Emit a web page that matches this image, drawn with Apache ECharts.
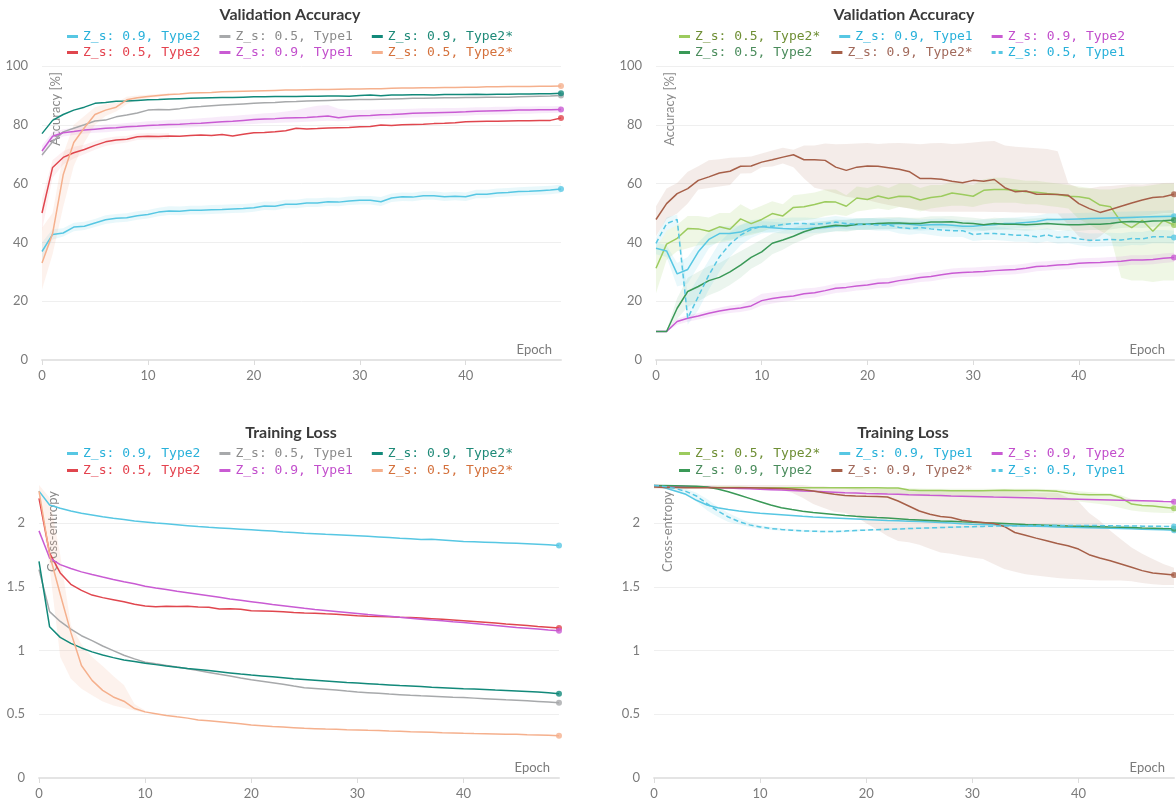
<!DOCTYPE html>
<html><head><meta charset="utf-8">
<script src="https://cdn.jsdelivr.net/npm/echarts@6/dist/echarts.min.js"></script>
<style>html,body{margin:0;padding:0;background:#fff}#c{width:1176px;height:809px}</style>
</head><body><div id="c"></div>
<script>
// ---------- categories ----------
const epochs = ['0','1','2','3','4','5','6','7','8','9','10','11','12','13','14','15','16','17','18','19','20','21','22','23','24','25','26','27','28','29','30','31','32','33','34','35','36','37','38','39','40','41','42','43','44','45','46','47','48','49'];
const accTicks = [0,20,40,60,80,100];
const lossTicks = [0,0.5,1,1.5,2];

// ---------- top-left: validation accuracy ----------
const tlCyan = [36.9,42.7,43.2,45.2,45.5,46.6,47.7,48.2,48.4,49.1,49.5,50.3,50.7,50.6,50.9,50.9,51.1,51.2,51.4,51.5,51.8,52.4,52.3,53.0,53.0,53.4,53.4,53.8,53.7,54.1,54.3,54.3,53.8,55.1,55.5,55.4,55.9,55.9,55.5,55.7,55.5,56.4,56.4,56.8,57.0,57.3,57.4,57.6,57.8,58.2];
const tlGray = [69.7,74.2,77.6,78.8,80,81.3,81.6,82.7,83.3,84,85,85.2,85.1,85.5,86,86.2,86.5,86.7,86.9,87.1,87.3,87.5,87.6,87.8,87.9,88.1,88.2,88.3,88.4,88.5,88.6,88.6,88.7,88.8,88.9,89,89,89.1,89.2,89.2,89.3,89.3,89.4,89.4,89.4,89.5,89.6,89.7,89.8,90];
const tlTeal = [77,81.5,83.5,85,86,87.3,87.6,88,88.1,88.3,88.5,88.6,88.8,88.9,89,89.1,89.2,89.3,89.3,89.4,89.5,89.5,89.6,89.6,89.6,89.7,89.7,89.8,89.8,89.7,90,90.1,89.9,90.1,90.1,90.2,90.2,90.1,90.3,90.3,90.3,90.4,90.3,90.4,90.4,90.5,90.5,90.6,90.6,90.7];
const tlRed = [50,65.5,68.9,70.5,71.6,73,74.2,74.8,75.1,75.9,76.1,76,76.2,76.1,76.4,76.5,76.4,76.7,76.2,76.8,77.3,77.4,77.6,78,78.8,78.6,78.7,78.9,79,79.1,79.3,79.4,79.9,79.8,80,80.1,80.2,80.4,80.5,80.7,81,81.1,81.2,81.2,81.3,81.4,81.4,81.5,81.5,82.3];
const tlPink = [71.1,76.1,77.3,77.7,78.2,78.5,78.8,79,79.3,79.5,79.8,79.9,80.1,80.2,80.4,80.5,80.8,81,81.2,81.5,81.8,82,82.1,82.3,82.4,82.5,82.7,83,82.4,82.8,83.1,83.2,83.4,83.5,83.7,83.9,84,84.1,84.2,84.3,84.4,84.6,84.7,84.8,84.9,85,85,85.1,85.1,85.2];
const tlOrange = [33,43,63,74,79,83.5,85,86,88.5,89.2,89.6,90,90.3,90.5,90.8,90.9,91,91.2,91.3,91.4,91.5,91.6,91.7,91.8,91.8,91.9,92,92,92.1,92.2,92.2,92.3,92.3,92.4,92.5,92.5,92.6,92.6,92.7,92.7,92.8,92.8,92.9,92.9,93,93,93,93.1,93.1,93.2];
// bands (min / max over runs)
const tlOrangeLo = [24,36,52,66,74,80,83,84.5,87,88.4,89,89.5,89.9];
const tlOrangeHi = [45,50,70,80,83,86,87,87.5,89.5,90,90.2,90.5,90.7];
const tlRedLo = [44,62,66.5,68.5,70,71.5,72.8,73.5,74,74.8,75,75,75.2];
const tlRedHi = [55,68,71,72.5,73.2,74.5,75.5,76,76.2,77,77.2,77.1,77.2];
const tlPinkLo = [69,74.5,76,76.5,77,77.3,77.5,77.8,78,78.2,78.4,78.6,78.8,79,79.1,79.3,79.5,79.7,79.9,80.1,80.3,80.5,80.6,80.8,80.9,81,81.2,81.4,81.2,81.5,81.7,81.8,82,82.1,82.3,82.5,82.6,82.7,82.9,83,83.1,83.3,83.4,83.5,83.6,83.7,83.8,83.9,84,84.1];
const tlPinkHi = [73,77.5,78.5,79,79.4,79.8,80.1,80.3,80.6,80.9,81.2,81.4,81.6,81.8,82,82.2,82.5,82.8,83,83.3,83.6,83.9,84.1,84.5,85,85.8,86.5,86.7,85.5,85,85,85.1,85.2,85.3,85.4,85.5,85.6,85.6,85.7,85.7,85.8,86,86,86.1,86.1,86.2,86.2,86.3,86.3,86.4];
const tlCyanLo = [34,41,42,43.8,44.2,45.2,46.3,46.8,47,47.7,48.1,48.9,49.3,49.2,49.5,49.5,49.7,49.8,50,50.1,50.4,51,50.9,51.6,51.6,52,52,52.4,52.3,52.7,52.9,52.9,52.4,53.7,54.1,54,54.5,54.5,54.1,54.3,54.1,55,55,55.4,55.6,55.9,56,56.2,56.4,56.8];
const tlCyanHi = [40,44.5,44.8,46.7,47,48,49.2,49.7,49.9,50.6,51,51.8,52.3,52.2,52.5,52.5,52.7,52.8,53,53.1,53.3,53.9,53.8,54.5,54.5,55,55,55.3,55.2,55.6,55.8,55.8,55.4,56.6,57,56.9,57.4,57.4,57,57.2,57,57.9,57.9,58.3,58.5,58.8,58.9,59.1,59.3,59.7];

// ---------- top-right: validation accuracy ----------
const trLgreen = [31.2,39.4,41.4,44.7,44.6,43.8,45.3,44.5,48,46.4,47.8,49.8,49,51.9,52.1,52.9,53.8,53.7,52.3,55.1,54.6,55.8,54.9,55.7,55.6,54.4,55.3,55.7,56.8,56.3,55.7,57.7,58,58,57.7,57.2,57.1,56.6,56.3,55.7,55.5,54.9,52.7,52.1,47,45,47.5,43.8,47.5,45.9];
const trCyan = [38,37.1,29.3,30.8,36.8,41,43,43,43.5,45,45.3,45,44.7,44.6,44.6,44.9,45.1,45.5,45.8,46,46.2,46.4,46.2,46.4,46.2,45.8,46,46.1,45.8,45.5,45.5,45.8,46,46.4,46.5,46.8,47.1,47.8,47.8,47.9,48,48.1,48.2,48.3,48.4,48.5,48.6,48.7,48.8,48.9];
const trPink = [9.7,9.7,13.1,14.2,15,15.9,16.7,17.3,17.7,18.4,20.2,20.9,21.4,21.8,22.5,22.9,23.6,24.4,24.7,25.2,25.5,26.1,26.3,27,27.5,28.1,28.4,29,29.5,29.8,29.9,30.1,30.4,30.6,30.8,31.2,31.8,32,32.3,32.5,32.9,33.1,33.2,33.4,33.6,34,34,34.2,34.6,34.9];
const trGreen = [9.7,9.7,17.6,23.3,25,27,28.1,30,32.3,34.9,36.8,39.7,40.8,42.1,43.6,44.7,45.3,45.8,45.6,46.2,46.2,46.4,46.6,46.6,46.4,46.4,46.9,46.9,47,46.6,46.4,46,46.4,46.2,46.2,46,46.2,46.4,46.2,46,46,46.2,46.2,46.4,46.9,47.1,46.9,47.3,47.4,47.6];
const trBrown = [47.8,53.2,56.6,58.3,61.1,62.3,63.6,64.2,65.9,66,67.3,68.1,69,69.8,68.1,68.1,67.9,65.6,64.5,65.6,66,65.9,65.4,64.9,64,61.7,61.7,61.5,60.8,60.3,61.1,60.8,61.4,58.6,57.2,57.5,56.4,56.4,56.3,56,53.2,51.5,50.2,51.2,52.3,53.4,54.4,55.3,55.5,56.4];
const trCyanDash = [39.7,46.4,47.8,14.2,21.6,28.9,35.1,39.4,42.5,44.4,45.5,45.5,46.1,46.4,46.4,46.2,46.4,46.9,46.4,46.2,46.2,45.9,45.9,45.1,44.7,45.1,44.6,44.2,44,44,42.7,43,43,42.8,42.4,42.4,41.9,42.6,41.7,41.9,41.2,40.7,40.8,41,40.8,41.3,41.2,41.9,41.9,41.7];
const trBrownLo = [42,48,49.8,53.2,58,58.5,59,59.5,63.4,63.5,65.6,65.8,66.8,65.6,61.7,58.6,57.7,56.6,55.5,55,54.4,53.5,52.7,52.1,51.5,51,50.4,50.4,50.4,50.4,50.4,50.4,50.3,50.3,50.2,50.2,50,49.8,49.8,46,42,40,42,45,48,48.5,49,49.5,50,50];
const trBrownHi = [52.3,58.3,60.2,64,65.9,67.9,68.3,68.8,69,69.2,70.2,71.3,72.2,71.5,73,73,73.6,73.4,73.5,73.6,73.8,73.5,73.7,73.8,73.6,73.4,73.7,73.8,73.5,73.6,74,74.3,74.5,73,72.5,72.3,72,71.8,71,60,58.5,58.3,59,59.2,59.5,59.8,59.7,60,60.2,60.3];
const trLgreenLo = [22.7,34,37,38,39,39,40,40.5,42,42.5,43.5,45,45.5,47,47.5,48,49,49.5,49,50.5,51,51.5,51,52,51.5,50.5,51.5,52,52.5,52.5,52,53,53.5,53.5,53.5,53,53,52.5,52,51.5,48,46,44,42,28,27,27,26.5,27,27];
const trLgreenHi = [38,44,46,49,49,48.5,50,50,53,51,52.5,54,53,56,56.5,57,58,58,56,59,58.5,59.5,58.5,60,60,58.5,59.5,59.5,60.5,60,59.5,61.5,62,62,61.5,61,61,60.5,60,59.5,59,58.5,58,58,58.5,59,59,59.5,60,60];
const trCyanLo = [36,35,25,26,32,38,40.5,41,41.5,43,43.5,43.3,43,42.9,42.9,43.2,43.4,43.8,44,44.2,44.4,44.6,44.4,44.6,44.4,44,44.2,44.3,44,43.7,43.7,44,44.2,44.6,44.7,45,45.3,46,46,46.1,46.2,46.3,46.4,46.5,46.6,46.7,46.8,46.9,47,47.1];
const trCyanHi = [40,39,33,35,40,43.5,45.5,45.5,45.8,47,47.2,47,46.7,46.6,46.6,46.9,47.1,47.5,47.8,48,48.2,48.4,48.2,48.4,48.2,47.8,48,48.1,47.8,47.5,47.5,47.8,48,48.4,48.5,48.8,49.1,49.8,49.8,49.9,50,50.1,50.2,50.3,50.4,50.5,50.6,50.7,50.8,51];
const trCyanDashLo = [38,44,46,12,17,24,30,35,39,41.5,43,43.5,44,44.5,44.5,44.3,44.5,45,44.5,44.3,44.3,44,44,43,42.6,43,42.5,42,41.8,41.8,40.5,40.8,40.8,40.6,40.2,40.2,39.7,40.4,39.5,39.7,39,38.5,38.6,38.8,38.6,39.1,39,39.7,39.7,39.5];
const trCyanDashHi = [41.5,48.5,49.5,22,28,34,40,43.5,46,47.5,48,48,48.3,48.5,48.5,48.3,48.5,49,48.5,48.3,48.3,48,48,47.3,46.9,47.3,46.8,46.4,46.2,46.2,45,45.2,45.2,45,44.6,44.6,44.2,44.8,43.9,44.1,43.5,43,43.1,43.3,43.1,43.6,43.5,44.2,44.2,44];
const trGreenLo = [9.5,9.5,14,18,20,22,23.5,25.5,28,31,33,36,37.5,39.5,41,42.5,43.3,43.8,43.6,44.2,44.2,44.4,44.6,44.6,44.4,44.4,44.9,44.9,45,44.6,44.4,44,44.4,44.2,44.2,44,44.2,44.4,44.2,44,44,44.2,44.2,44.4,44.9,45.1,44.9,45.3,45.4,45.6];
const trGreenHi = [10,10,21,28,30,32,33,35,37,39,41,43,44,45,46,47,47.3,47.8,47.6,48.2,48.2,48.4,48.6,48.6,48.4,48.4,48.9,48.9,49,48.6,48.4,48,48.4,48.2,48.2,48,48.2,48.4,48.2,48,48,48.2,48.2,48.4,48.9,49.1,48.9,49.3,49.4,49.6];
const trPinkLo = [9.5,9.5,12,13,13.8,14.6,15.4,16,16.3,17,18.5,19.2,19.8,20.2,20.9,21.3,22,22.8,23.1,23.6,23.9,24.5,24.7,25.4,25.9,26.5,26.8,27.4,27.9,28.2,28.3,28.5,28.8,29,29.2,29.6,30.2,30.4,30.7,30.9,31.3,31.5,31.6,31.8,32,32.4,32.4,32.6,33,33.3];
const trPinkHi = [10,10,14,15.2,16,16.9,17.8,18.5,19,20.5,22.5,23,23.4,23.8,24.3,24.6,25.2,26,26.3,26.8,27.1,27.7,27.9,28.6,29.1,29.7,30,30.6,31.1,31.4,31.5,31.7,32,32.2,32.4,32.8,33.4,33.6,33.9,34.1,34.5,34.7,34.8,35,35.2,35.6,35.6,35.8,36.2,36.5];

// ---------- bottom-left: training loss ----------
const blCyan = [2.252,2.143,2.117,2.096,2.078,2.065,2.05,2.039,2.029,2.018,2.01,2.002,1.995,1.988,1.981,1.974,1.968,1.963,1.958,1.953,1.948,1.943,1.938,1.932,1.927,1.922,1.918,1.913,1.909,1.905,1.901,1.897,1.892,1.887,1.882,1.878,1.872,1.874,1.869,1.863,1.857,1.854,1.851,1.848,1.845,1.842,1.838,1.834,1.83,1.826];
const blGray = [1.636,1.306,1.229,1.169,1.117,1.078,1.036,1.0,0.964,0.935,0.909,0.896,0.884,0.871,0.857,0.844,0.829,0.814,0.8,0.785,0.771,0.76,0.748,0.736,0.722,0.709,0.703,0.697,0.69,0.682,0.675,0.67,0.665,0.659,0.654,0.649,0.645,0.642,0.638,0.634,0.631,0.627,0.623,0.619,0.614,0.61,0.606,0.601,0.596,0.59];
const blTeal = [1.701,1.187,1.104,1.057,1.021,0.99,0.966,0.945,0.927,0.914,0.901,0.89,0.879,0.869,0.86,0.852,0.843,0.834,0.825,0.816,0.808,0.801,0.794,0.787,0.78,0.774,0.768,0.762,0.756,0.75,0.745,0.74,0.735,0.731,0.726,0.722,0.718,0.713,0.709,0.705,0.701,0.698,0.694,0.69,0.687,0.683,0.679,0.675,0.67,0.662];
const blRed = [2.195,1.766,1.61,1.52,1.473,1.436,1.416,1.4,1.384,1.364,1.351,1.345,1.348,1.346,1.349,1.343,1.341,1.327,1.329,1.325,1.312,1.31,1.308,1.305,1.3,1.296,1.294,1.289,1.285,1.28,1.273,1.27,1.268,1.265,1.262,1.26,1.256,1.251,1.246,1.24,1.234,1.228,1.222,1.216,1.209,1.203,1.197,1.19,1.184,1.177];
const blPink = [1.94,1.727,1.675,1.644,1.618,1.597,1.577,1.558,1.54,1.525,1.506,1.492,1.479,1.466,1.454,1.442,1.43,1.418,1.406,1.395,1.384,1.373,1.362,1.352,1.342,1.332,1.323,1.315,1.307,1.299,1.291,1.283,1.276,1.269,1.261,1.254,1.247,1.24,1.234,1.227,1.221,1.213,1.205,1.198,1.19,1.182,1.176,1.169,1.162,1.156];
const blOrange = [2.252,1.753,1.442,1.143,0.883,0.766,0.688,0.636,0.603,0.545,0.519,0.505,0.491,0.48,0.47,0.455,0.449,0.442,0.434,0.425,0.416,0.411,0.405,0.4,0.395,0.39,0.387,0.384,0.382,0.379,0.377,0.374,0.372,0.369,0.367,0.364,0.362,0.359,0.356,0.354,0.351,0.349,0.348,0.346,0.344,0.343,0.34,0.338,0.335,0.332];
const blOrangeLo = [2.2,1.65,0.95,0.78,0.7,0.65,0.6,0.57,0.55,0.53,0.51];
const blOrangeHi = [2.3,2.2,1.75,1.2,1.05,0.95,0.88,0.8,0.73,0.58,0.53];

// ---------- bottom-right: training loss ----------
const brLgreen = [2.297,2.292,2.288,2.285,2.283,2.282,2.281,2.28,2.28,2.279,2.279,2.279,2.279,2.278,2.278,2.278,2.278,2.278,2.278,2.278,2.278,2.278,2.277,2.277,2.26,2.257,2.256,2.256,2.255,2.255,2.255,2.254,2.256,2.258,2.257,2.257,2.256,2.255,2.25,2.238,2.227,2.224,2.224,2.224,2.2,2.15,2.14,2.135,2.126,2.117];
const brCyan = [2.297,2.279,2.253,2.227,2.18,2.143,2.122,2.107,2.096,2.087,2.078,2.072,2.066,2.06,2.054,2.049,2.045,2.041,2.037,2.033,2.029,2.026,2.022,2.019,2.016,2.013,2.009,2.005,2.001,1.996,1.992,1.99,1.987,1.984,1.981,1.979,1.977,1.974,1.971,1.968,1.966,1.964,1.962,1.96,1.958,1.956,1.953,1.951,1.948,1.945];
const brPink = [2.297,2.294,2.291,2.288,2.285,2.282,2.279,2.276,2.273,2.27,2.266,2.263,2.26,2.257,2.253,2.25,2.247,2.244,2.24,2.237,2.234,2.232,2.229,2.227,2.224,2.222,2.219,2.217,2.214,2.212,2.21,2.208,2.205,2.203,2.201,2.199,2.197,2.194,2.192,2.19,2.188,2.186,2.184,2.182,2.18,2.178,2.176,2.174,2.171,2.169];
const brGreen = [2.297,2.297,2.295,2.293,2.29,2.284,2.268,2.247,2.221,2.195,2.169,2.143,2.122,2.107,2.094,2.084,2.076,2.068,2.06,2.054,2.049,2.044,2.04,2.035,2.03,2.026,2.022,2.018,2.015,2.011,2.008,2.004,2.001,1.998,1.994,1.99,1.988,1.985,1.982,1.979,1.977,1.975,1.973,1.97,1.968,1.966,1.963,1.961,1.958,1.956];
const brBrown = [2.284,2.281,2.28,2.279,2.279,2.279,2.279,2.278,2.278,2.278,2.277,2.275,2.272,2.268,2.262,2.253,2.24,2.227,2.218,2.214,2.211,2.209,2.206,2.174,2.135,2.096,2.07,2.052,2.045,2.023,2.013,2.005,1.997,1.975,1.927,1.906,1.883,1.862,1.84,1.823,1.797,1.753,1.727,1.706,1.68,1.654,1.628,1.609,1.602,1.594];
const brCyanDash = [2.297,2.289,2.273,2.25,2.214,2.154,2.096,2.049,2.013,1.987,1.971,1.958,1.951,1.945,1.94,1.937,1.935,1.935,1.938,1.943,1.946,1.949,1.952,1.955,1.958,1.961,1.963,1.966,1.968,1.971,1.973,1.975,1.977,1.979,1.98,1.981,1.982,1.983,1.983,1.983,1.983,1.982,1.981,1.98,1.979,1.978,1.977,1.976,1.975,1.974];
const brBrownLo = [2.27,2.27,2.27,2.27,2.27,2.27,2.27,2.27,2.27,2.27,2.27,2.265,2.26,2.24,2.2,2.15,2.12,2.09,2.08,2.05,2.0,1.95,1.9,1.86,1.85,1.83,1.8,1.77,1.76,1.745,1.73,1.72,1.68,1.64,1.62,1.6,1.59,1.58,1.57,1.565,1.56,1.555,1.55,1.55,1.55,1.545,1.53,1.52,1.515,1.515];
const brBrownHi = [2.3,2.3,2.3,2.3,2.3,2.3,2.3,2.3,2.3,2.3,2.3,2.3,2.3,2.3,2.3,2.29,2.29,2.28,2.28,2.28,2.27,2.27,2.27,2.27,2.26,2.26,2.26,2.26,2.26,2.26,2.26,2.25,2.25,2.25,2.25,2.25,2.24,2.24,2.24,2.2,2.17,2.08,2.02,1.94,1.875,1.81,1.76,1.72,1.68,1.65];
const brLgreenLo = [2.297,2.29,2.286,2.283,2.281,2.28,2.279,2.278,2.278,2.277,2.277,2.277,2.277,2.276,2.276,2.276,2.276,2.275,2.27,2.26,2.25,2.24,2.235,2.23,2.22,2.215,2.21,2.21,2.21,2.21,2.21,2.21,2.21,2.21,2.21,2.21,2.21,2.2,2.19,2.18,2.17,2.16,2.15,2.14,2.12,2.1,2.09,2.085,2.08,2.08];
const brLgreenHi = [2.298,2.294,2.29,2.287,2.285,2.284,2.283,2.282,2.282,2.281,2.281,2.281,2.281,2.28,2.28,2.28,2.28,2.28,2.28,2.28,2.28,2.28,2.28,2.28,2.275,2.272,2.27,2.27,2.27,2.27,2.27,2.27,2.27,2.27,2.27,2.27,2.27,2.268,2.265,2.26,2.25,2.245,2.24,2.235,2.22,2.19,2.18,2.17,2.16,2.15];
const brCyanDashLo = [2.295,2.28,2.25,2.22,2.17,2.1,2.05,2.01,1.99,1.97,1.957,1.947,1.941,1.936,1.932,1.929,1.927,1.927,1.93,1.935,1.938,1.941,1.944,1.947,1.95,1.953,1.955,1.958,1.96,1.963,1.965,1.967,1.969,1.971,1.972,1.973,1.974,1.975,1.975,1.975,1.975,1.974,1.973,1.972,1.971,1.97,1.969,1.968,1.967,1.966];
const brCyanDashHi = [2.3,2.295,2.29,2.27,2.24,2.19,2.13,2.08,2.04,2.005,1.985,1.97,1.961,1.954,1.948,1.945,1.943,1.943,1.946,1.951,1.954,1.957,1.96,1.963,1.966,1.969,1.971,1.974,1.976,1.979,1.981,1.983,1.985,1.987,1.988,1.989,1.99,1.991,1.991,1.991,1.991,1.99,1.989,1.988,1.987,1.986,1.985,1.984,1.983,1.982];

// ---------- styles ----------
const LINE = {cyan:'#57c7e3', gray:'#a7a9ab', teal:'#12897a', red:'#e0464e', magenta:'#c95bd3', orange:'#f5b08d', lgreen:'#9ccb5e', green:'#3a9957', brown:'#a65f48'};
const TEXT = {cyan:'#29b1da', gray:'#8c8c8c', teal:'#1f8a78', red:'#e4434f', magenta:'#c24fcc', orange:'#d4713c', lgreen:'#6f8f35', green:'#4a8c5c', brown:'#a26a5c'};
const BAND = {cyan:'rgba(87,199,227,0.13)', orange:'rgba(245,176,141,0.16)', magenta:'rgba(201,91,211,0.12)', red:'rgba(224,70,78,0.08)', lgreen:'rgba(156,203,94,0.16)', green:'rgba(58,153,87,0.10)', brown:'rgba(166,95,72,0.12)'};
const ICON_SOLID = 'path://M0,0h11v3h-11z';
const ICON_DASH = 'path://M0,0h4v3h-4zM7,0h4v3h-4z';

const panels = [
  {title:'Validation Accuracy', titleX:290, titleY:15, grid:{left:42, top:66, width:519, height:294},
   ymax:100, yint:20, yname:'Accuracy [%]', legendLeft:67, legendTops:[30,46],
   lines:[
     {label:'Z_s: 0.9, Type2', data:tlCyan, c:'cyan'},
     {label:'Z_s: 0.5, Type1', data:tlGray, c:'gray'},
     {label:'Z_s: 0.9, Type2*', data:tlTeal, c:'teal'},
     {label:'Z_s: 0.5, Type2', data:tlRed, c:'red'},
     {label:'Z_s: 0.9, Type1', data:tlPink, c:'magenta'},
     {label:'Z_s: 0.5, Type2*', data:tlOrange, c:'orange'}],
   bands:[{lo:tlPinkLo, hi:tlPinkHi, c:'magenta'},{lo:tlCyanLo, hi:tlCyanHi, c:'cyan'},{lo:tlRedLo, hi:tlRedHi, c:'red'},{lo:tlOrangeLo, hi:tlOrangeHi, c:'orange'}]},
  {title:'Validation Accuracy', titleX:904, titleY:15, grid:{left:656, top:66, width:518, height:294},
   ymax:100, yint:20, yname:'Accuracy [%]', legendLeft:679, legendTops:[30,46],
   lines:[
     {label:'Z_s: 0.5, Type2*', data:trLgreen, c:'lgreen'},
     {label:'Z_s: 0.9, Type1', data:trCyan, c:'cyan'},
     {label:'Z_s: 0.9, Type2', data:trPink, c:'magenta'},
     {label:'Z_s: 0.5, Type2', data:trGreen, c:'green'},
     {label:'Z_s: 0.9, Type2*', data:trBrown, c:'brown'},
     {label:'Z_s: 0.5, Type1', data:trCyanDash, c:'cyan', dash:true}],
   bands:[{lo:trBrownLo, hi:trBrownHi, c:'brown'},{lo:trLgreenLo, hi:trLgreenHi, c:'lgreen'},{lo:trGreenLo, hi:trGreenHi, c:'green'},{lo:trCyanLo, hi:trCyanHi, c:'cyan'},{lo:trCyanDashLo, hi:trCyanDashHi, c:'cyan'},{lo:trPinkLo, hi:trPinkHi, c:'magenta'}]},
  {title:'Training Loss', titleX:291, titleY:433, grid:{left:39, top:485, width:520, height:293},
   ymax:2.3, yint:0.5, yname:'Cross-entropy', legendLeft:67, legendTops:[447,464],
   lines:[
     {label:'Z_s: 0.9, Type2', data:blCyan, c:'cyan'},
     {label:'Z_s: 0.5, Type1', data:blGray, c:'gray'},
     {label:'Z_s: 0.9, Type2*', data:blTeal, c:'teal'},
     {label:'Z_s: 0.5, Type2', data:blRed, c:'red'},
     {label:'Z_s: 0.9, Type1', data:blPink, c:'magenta'},
     {label:'Z_s: 0.5, Type2*', data:blOrange, c:'orange'}],
   bands:[{lo:blOrangeLo, hi:blOrangeHi, c:'orange'}]},
  {title:'Training Loss', titleX:903, titleY:433, grid:{left:654, top:485, width:520, height:293},
   ymax:2.3, yint:0.5, yname:'Cross-entropy', legendLeft:679, legendTops:[447,464],
   lines:[
     {label:'Z_s: 0.5, Type2*', data:brLgreen, c:'lgreen'},
     {label:'Z_s: 0.9, Type1', data:brCyan, c:'cyan'},
     {label:'Z_s: 0.9, Type2', data:brPink, c:'magenta'},
     {label:'Z_s: 0.9, Type2', data:brGreen, c:'green'},
     {label:'Z_s: 0.9, Type2*', data:brBrown, c:'brown'},
     {label:'Z_s: 0.5, Type1', data:brCyanDash, c:'cyan', dash:true}],
   bands:[{lo:brBrownLo, hi:brBrownHi, c:'brown'},{lo:brLgreenLo, hi:brLgreenHi, c:'lgreen'},{lo:brCyanDashLo, hi:brCyanDashHi, c:'cyan'}]}
];

const FONT = 'Lato, "Noto Sans", sans-serif';
const MONO = '"DejaVu Sans Mono", monospace';
const option = {animation:false, backgroundColor:'#fff', title:[], grid:[], xAxis:[], yAxis:[], legend:[], series:[]};

panels.forEach((p, gi) => {
  option.title.push({text:p.title, left:p.titleX, top:p.titleY, textAlign:'center', textVerticalAlign:'middle', padding:0,
    textStyle:{fontFamily:FONT, fontSize:16, fontWeight:'bold', color:'#3a3a3a'}});
  option.grid.push(Object.assign({containLabel:false, outerBoundsMode:'none'}, p.grid));
  option.xAxis.push({type:'category', gridIndex:gi, data:epochs, boundaryGap:false,
    name:'Epoch', nameLocation:'end', nameGap:-9,
    nameTextStyle:{fontFamily:FONT, fontSize:13, color:'#7b7b7b', align:'right', verticalAlign:'bottom', padding:[0,0,4,0]},
    axisLine:{lineStyle:{color:'#e4e4e4', width:2}},
    axisTick:{show:true, interval:(i)=>i%10===0, length:5, lineStyle:{color:'#dcdcdc'}},
    axisLabel:{interval:(i)=>i%10===0, color:'#7b7b7b', fontFamily:FONT, fontSize:13, margin:9},
    splitLine:{show:false}});
  const nTicks = p.ymax === 100 ? accTicks.length : lossTicks.length + 1;
  const splitColors = [];
  for (let k = 0; k < nTicks; k++) splitColors.push(p.ymax === 100 || k < nTicks - 1 ? '#efefef' : 'rgba(0,0,0,0)');
  option.yAxis.push({type:'value', gridIndex:gi, min:0, max:p.ymax, interval:p.yint,
    name:p.yname, nameLocation:'end', nameRotate:90, nameGap:-6,
    nameTextStyle:{fontFamily:FONT, fontSize:13, color:'#8a8a8a', align:'right', verticalAlign:'top', padding:[7,0,0,0]},
    axisLine:{show:false}, axisTick:{show:false},
    axisLabel:{color:'#7b7b7b', fontFamily:FONT, fontSize:13, margin:14, showMaxLabel: p.ymax === 100,
      formatter:(v)=> (p.ymax === 100 ? accTicks : lossTicks).indexOf(v) >= 0 ? String(v) : ''},
    splitLine:{lineStyle:{color:splitColors, width:1}}});

  // bands
  p.bands.forEach((b, bi) => {
    const data = b.lo.map((v, i) => [i, v, b.hi[i]]);
    option.series.push({type:'custom', name:'band'+gi+'_'+bi, xAxisIndex:gi, yAxisIndex:gi, silent:true, z:1,
      data, encode:{x:0, y:[1,2]},
      renderItem:(params, api) => {
        if (params.dataIndex !== 0) return null;
        const top = data.map(d => api.coord([d[0], d[2]]));
        const bot = data.map(d => api.coord([d[0], d[1]])).reverse();
        return {type:'polygon', shape:{points:top.concat(bot)}, style:{fill:BAND[b.c]}};
      }});
  });
  // lines
  p.lines.forEach((l, li) => {
    const nm = gi + '|' + li + '|' + l.label;
    l.key = nm;
    option.series.push({type:'line', name:nm, xAxisIndex:gi, yAxisIndex:gi, data:l.data, symbol:'none', z:3,
      lineStyle:{color:LINE[l.c], width:1.5, type: l.dash ? [5,3] : 'solid'}, itemStyle:{color:LINE[l.c]}});
    option.series.push({type:'scatter', name:'end'+gi+'_'+li, xAxisIndex:gi, yAxisIndex:gi, silent:true, z:4,
      data:[[l.data.length - 1, l.data[l.data.length - 1]]], symbolSize:6, itemStyle:{color:LINE[l.c]}});
  });
  // legends (two rows)
  [[0,1,2],[3,4,5]].forEach((row, ri) => {
    option.legend.push({left:p.legendLeft, top:p.legendTops[ri], orient:'horizontal', padding:0,
      itemWidth:11, itemHeight:3, itemGap:19, selectedMode:false, symbolKeepAspect:false,
      textStyle:{fontFamily:MONO, fontSize:13},
      formatter:(n)=>n.split('|')[2],
      data:row.map(i => ({name:p.lines[i].key, icon: p.lines[i].dash ? ICON_DASH : ICON_SOLID,
        itemStyle:{color:LINE[p.lines[i].c], borderWidth:0},
        textStyle:{color:TEXT[p.lines[i].c]}}))});
  });
});

const chart = echarts.init(document.getElementById('c'), null, {renderer:'canvas'});
chart.setOption(option);
</script>
</body></html>
